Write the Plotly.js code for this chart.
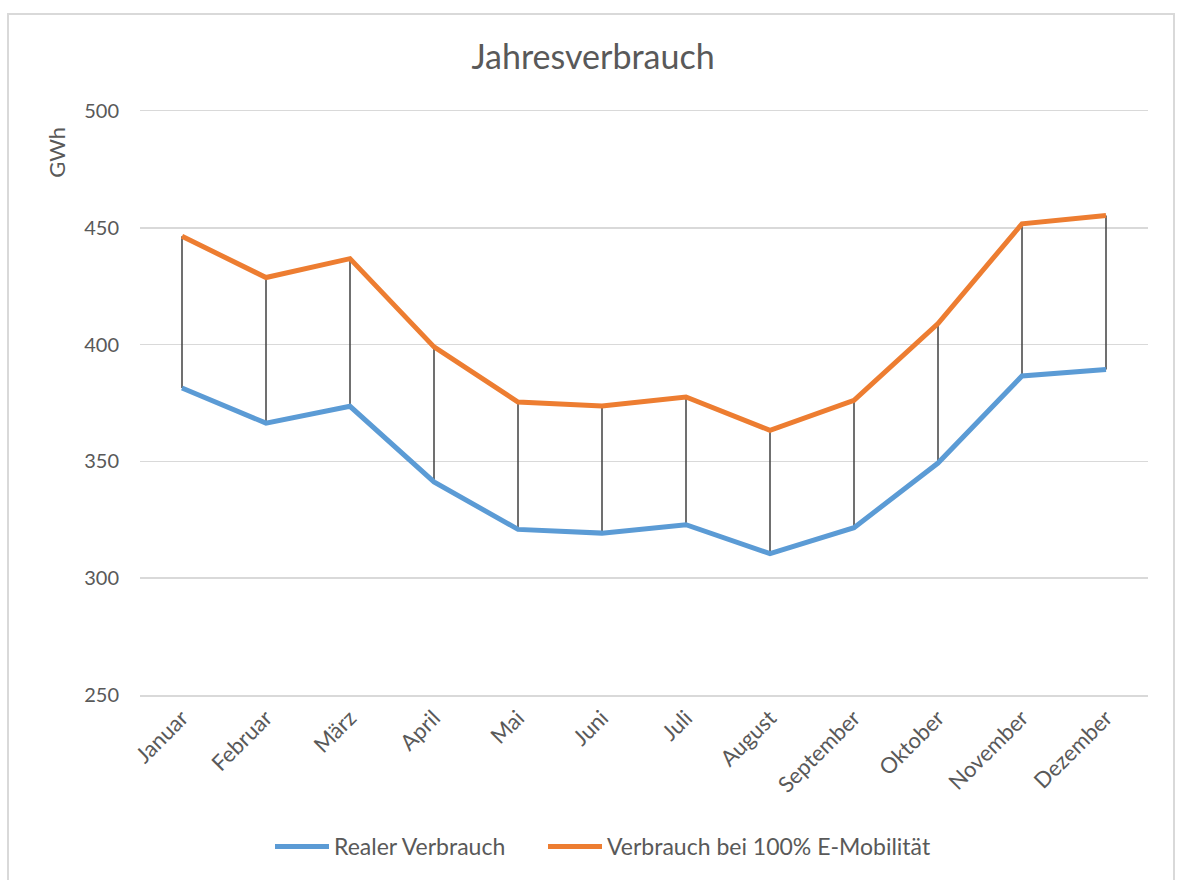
<!DOCTYPE html>
<html>
<head>
<meta charset="utf-8">
<script src="https://cdn.plot.ly/plotly-3.0.1.min.js"></script>
<style>
  html, body { margin: 0; padding: 0; background: #fff; }
  #wrap { position: relative; width: 1179px; height: 880px; overflow: hidden; }
  #frame { position: absolute; left: 7px; top: 13px; width: 1168px; height: 900px; border: 2px solid #d9d9d9; box-sizing: border-box; }
  #chart { position: absolute; left: 0; top: 0; width: 1179px; height: 880px; }
</style>
</head>
<body>
<div id="wrap">
  <div id="frame"></div>
  <div id="chart"></div>
</div>
<script>
const months = ["Januar","Februar","März","April","Mai","Juni","Juli","August","September","Oktober","November","Dezember"];
const realerVerbrauch = [381.4, 366.4, 373.6, 341.2, 320.9, 319.3, 322.9, 310.5, 321.6, 349.3, 386.6, 389.3];
const eMobilitaet = [446.4, 428.7, 436.8, 399.0, 375.4, 373.7, 377.6, 363.3, 376.1, 409.0, 451.7, 455.3];

const FONT = "Lato, 'Open Sans', sans-serif";
const GREY = "#595959";

// high-low connector lines built from the data
const hlX = [], hlY = [];
months.forEach((m, i) => {
  hlX.push(m, m, null);
  hlY.push(realerVerbrauch[i], eMobilitaet[i], null);
});

const traces = [
  {
    x: hlX, y: hlY, type: "scatter", mode: "lines",
    line: { color: "#404040", width: 1.5 },
    showlegend: false, hoverinfo: "skip", connectgaps: false
  },
  {
    x: months, y: realerVerbrauch, type: "scatter", mode: "lines",
    name: "Realer Verbrauch", legend: "legend",
    line: { color: "#5B9BD5", width: 5 }
  },
  {
    x: months, y: eMobilitaet, type: "scatter", mode: "lines",
    name: "Verbrauch bei 100% E-Mobilität", legend: "legend2",
    line: { color: "#ED7D31", width: 5 }
  }
];

const legendBase = {
  orientation: "h", xanchor: "left",
  y: -(849 - 697) / 586, yanchor: "middle",
  font: { family: FONT, size: 23, color: GREY },
  bgcolor: "rgba(0,0,0,0)",
  itemwidth: 54
};

const layout = {
  width: 1179, height: 880,
  paper_bgcolor: "rgba(0,0,0,0)",
  plot_bgcolor: "rgba(0,0,0,0)",
  margin: { l: 140, r: 31, t: 111, b: 183 },
  font: { family: FONT, color: GREY, size: 15 },
  title: {
    text: "Jahresverbrauch",
    font: { family: FONT, size: 34, color: GREY },
    x: 0.503, xanchor: "center", y: 1 - 57/880, yanchor: "middle"
  },
  xaxis: {
    type: "category", range: [-0.5, 11.5],
    tickangle: -45, showgrid: false, zeroline: false,
    showline: true, mirror: true, linecolor: "#d9d9d9", linewidth: 1.5,
    ticks: "",
    tickfont: { family: FONT, size: 22, color: GREY },
    fixedrange: true
  },
  yaxis: {
    range: [250, 500], dtick: 50, tick0: 250,
    showgrid: true, gridcolor: "#d9d9d9", gridwidth: 1.5,
    zeroline: false, showline: false, ticks: "",
    ticklabelstandoff: 20,
    tickfont: { family: FONT, size: 20, color: GREY },
    fixedrange: true
  },
  annotations: [{
    text: "GWh", xref: "paper", yref: "paper",
    x: (57 - 140) / 1008, y: (697 - 153) / 586,
    xanchor: "center", yanchor: "middle", textangle: -90,
    showarrow: false, font: { family: FONT, size: 22, color: GREY }
  }],
  legend: Object.assign({}, legendBase, { x: (278 - 148) / 1008 }),
  legend2: Object.assign({}, legendBase, { x: (551 - 148) / 1008 }),
  showlegend: true
};

Plotly.newPlot("chart", traces, layout, { displayModeBar: false, staticPlot: true });
</script>
</body>
</html>
